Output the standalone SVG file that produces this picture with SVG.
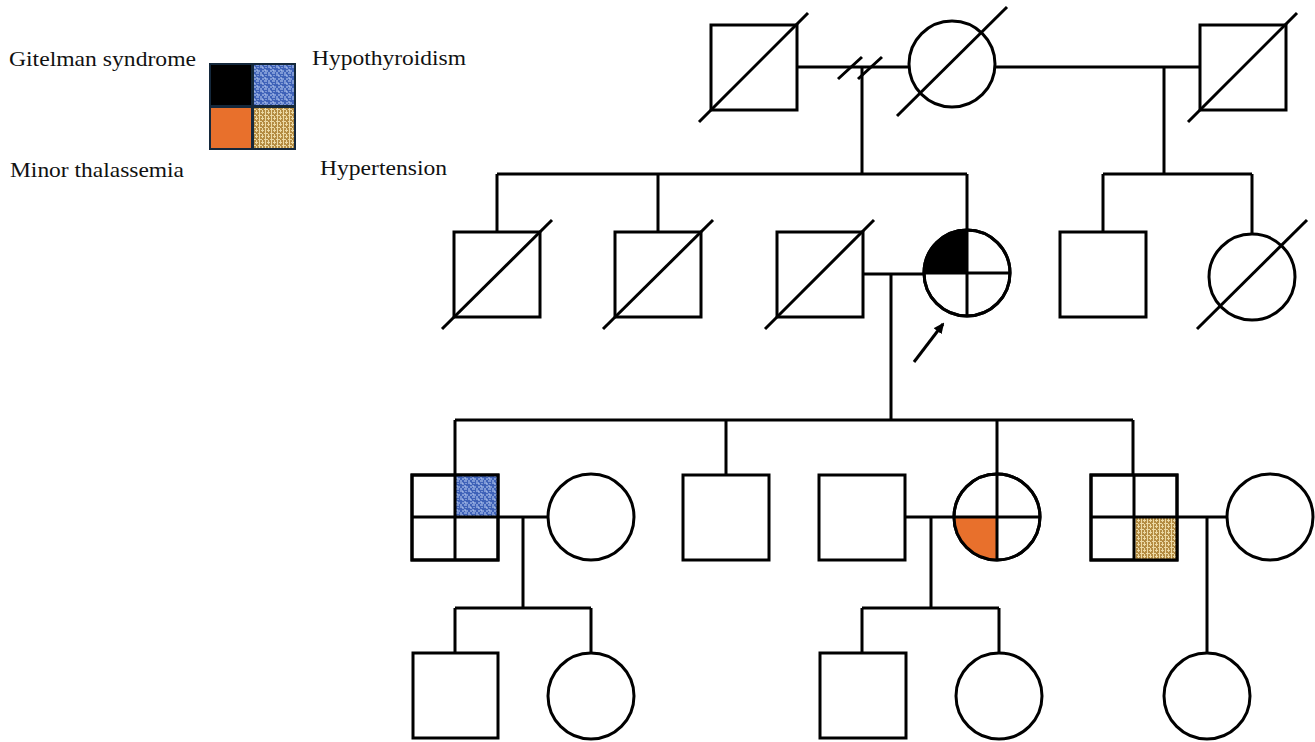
<svg xmlns="http://www.w3.org/2000/svg" width="1315" height="742" viewBox="0 0 1315 742">
<style>
.s{fill:#fff;stroke:#000;stroke-width:3}
.l{fill:none;stroke:#000;stroke-width:3}
.t{font-family:"Liberation Serif","Times New Roman",serif;font-size:22px;fill:#111}
</style>
<defs>
<pattern id="blue" width="8" height="8" patternUnits="userSpaceOnUse">
<rect width="8" height="8" fill="#3f62b8"/>
<path d="M0 1h3M4 3h3v2M1 5v2h3M6 7h2M5 0v2M2 3v1" stroke="#bccff5" stroke-width="1" fill="none"/>
</pattern>
<pattern id="tan" width="6" height="6" patternUnits="userSpaceOnUse">
<rect width="6" height="6" fill="#b48c42"/>
<path d="M0 1.5h4M1.5 0v6M3 4.5h3M4.5 2v4" stroke="#ecd9a4" stroke-width="1" fill="none"/>
</pattern>
<marker id="arr" markerWidth="11" markerHeight="10" refX="9" refY="5" orient="auto" markerUnits="userSpaceOnUse">
<path d="M0 0L11 5L0 10Z" fill="#000"/>
</marker>
</defs>
<rect width="1315" height="742" fill="#fff"/>

<g id="legend">
<rect x="209" y="63" width="87" height="87" fill="#14283c"/>
<rect x="211" y="65" width="40" height="40" fill="#000"/>
<rect x="254" y="65" width="40" height="40" fill="url(#blue)"/>
<rect x="211" y="108" width="40" height="40" fill="#e8702c"/>
<rect x="254" y="108" width="40" height="40" fill="url(#tan)"/>
<text class="t" x="9" y="66" textLength="187" lengthAdjust="spacingAndGlyphs">Gitelman syndrome</text>
<text class="t" x="312" y="65" textLength="154" lengthAdjust="spacingAndGlyphs">Hypothyroidism</text>
<text class="t" x="10" y="177" textLength="174" lengthAdjust="spacingAndGlyphs">Minor thalassemia</text>
<text class="t" x="320" y="175" textLength="127" lengthAdjust="spacingAndGlyphs">Hypertension</text>
</g>

<g id="connectors">
<path class="l" d="M797 67H909M995 67H1200"/>
<path class="l" d="M838 79L862 57M858 79L882 57"/>
<path class="l" d="M862 67V174M1164 67V174"/>
<path class="l" d="M497 174H967M497 174V232M658 174V232M967 174V230"/>
<path class="l" d="M1103 174H1252M1103 174V232M1252 174V234"/>
<path class="l" d="M863 274H924M891 274V420"/>
<path class="l" d="M455 420H1133M455 420V475M726 420V475M997 420V474M1133 420V475"/>
<path class="l" d="M498 517H548M906 517H954M1177 517H1227"/>
<path class="l" d="M523 517V608M931 517V608M1207 517V653"/>
<path class="l" d="M455 608H591M455 608V653M591 608V653M862 608H999M862 608V653M999 608V653"/>
<path class="l" d="M914 362L943 324" marker-end="url(#arr)"/>
</g>

<g id="I-1"><rect class="s" x="711" y="25" width="86" height="85"/><path class="l" d="M699 122L808 13"/></g>
<g id="I-2"><circle class="s" cx="952" cy="64" r="43"/><path class="l" d="M897 116L1007 7"/></g>
<g id="I-3"><rect class="s" x="1200" y="25" width="86" height="85"/><path class="l" d="M1188 122L1297 13"/></g>

<g id="II-1"><rect class="s" x="454" y="232" width="86" height="85"/><path class="l" d="M442 329L552 220"/></g>
<g id="II-2"><rect class="s" x="615" y="232" width="86" height="85"/><path class="l" d="M603 329L713 220"/></g>
<g id="II-3"><rect class="s" x="777" y="232" width="86" height="85"/><path class="l" d="M765 329L874 220"/></g>
<g id="II-4">
<circle class="s" cx="967" cy="273" r="43"/>
<path d="M967 273H924A43 43 0 0 1 967 230Z" fill="#000"/>
<path class="l" d="M967 230V316M924 273H1010"/>
<circle class="l" cx="967" cy="273" r="43"/>
</g>
<g id="II-5"><rect class="s" x="1060" y="232" width="86" height="85"/></g>
<g id="II-6"><circle class="s" cx="1252" cy="277" r="43"/><path class="l" d="M1197 329L1307 220"/></g>

<g id="III-1">
<rect class="s" x="412" y="475" width="86" height="85"/>
<rect x="455" y="475" width="43" height="42" fill="url(#blue)" stroke="#1c2f55" stroke-width="2"/>
<path class="l" d="M455 475V560M412 517H498"/>
<rect class="l" x="412" y="475" width="86" height="85"/>
</g>
<g id="III-2"><circle class="s" cx="591" cy="517" r="43"/></g>
<g id="III-3"><rect class="s" x="683" y="475" width="86" height="85"/></g>
<g id="III-4"><rect class="s" x="819" y="475" width="86" height="85"/></g>
<g id="III-5">
<circle class="s" cx="997" cy="517" r="43"/>
<path d="M997 517H954A43 43 0 0 0 997 560Z" fill="#e8702c"/>
<path class="l" d="M997 474V560M954 517H1040"/>
<circle class="l" cx="997" cy="517" r="43"/>
</g>
<g id="III-6">
<rect class="s" x="1091" y="475" width="86" height="85"/>
<rect x="1134" y="517" width="43" height="43" fill="url(#tan)" stroke="#1c2f45" stroke-width="2"/>
<path class="l" d="M1134 475V560M1091 517H1177"/>
<rect class="l" x="1091" y="475" width="86" height="85"/>
</g>
<g id="III-7"><circle class="s" cx="1270" cy="517" r="43"/></g>

<g id="IV-1"><rect class="s" x="413" y="653" width="85" height="85"/></g>
<g id="IV-2"><circle class="s" cx="591" cy="696" r="43"/></g>
<g id="IV-3"><rect class="s" x="820" y="653" width="86" height="85"/></g>
<g id="IV-4"><circle class="s" cx="999" cy="696" r="43"/></g>
<g id="IV-5"><circle class="s" cx="1207" cy="696" r="43"/></g>
</svg>
